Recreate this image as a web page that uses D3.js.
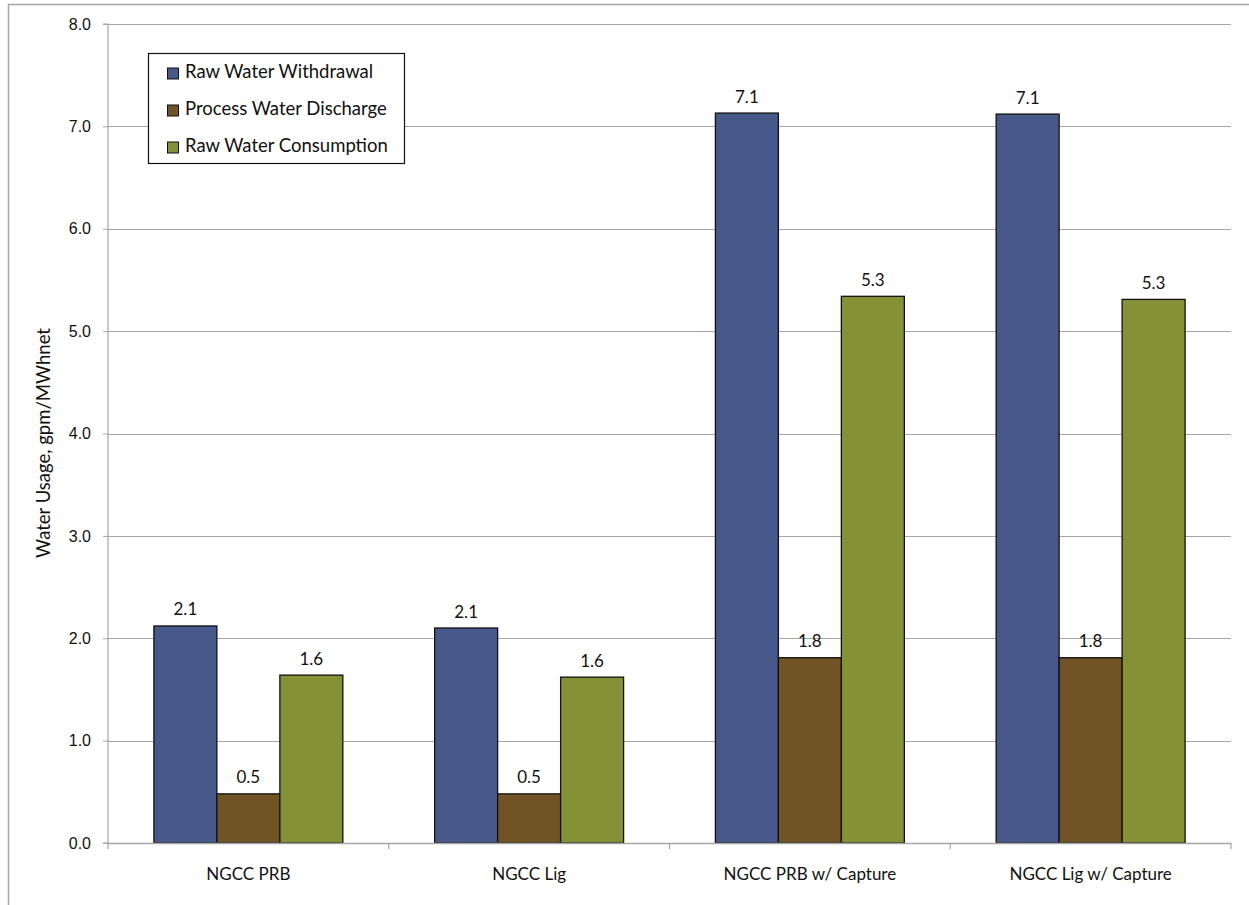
<!DOCTYPE html>
<html>
<head>
<meta charset="utf-8">
<script src="https://cdn.jsdelivr.net/npm/d3@7"></script>
<style>
  html, body { margin: 0; padding: 0; background: #fff; }
  svg { display: block; font-family: Lato, "Open Sans", "Liberation Sans", sans-serif; }
</style>
</head>
<body>
<svg id="chart" width="1249" height="905"></svg>
<script>
// Plant configurations along the x axis
const categories = ["NGCC PRB", "NGCC Lig", "NGCC PRB w/ Capture", "NGCC Lig w/ Capture"];
// Water streams, one bar per stream in each group
const seriesNames = ["Raw Water Withdrawal", "Process Water Discharge", "Raw Water Consumption"];
const seriesColors = ["#47598A", "#705425", "#849137"];
// Values in gpm/MWhnet, one array per stream
const rawWithdrawal = [2.12, 2.10, 7.13, 7.12];
const processDischarge = [0.48, 0.48, 1.81, 1.81];
const rawConsumption = [1.64, 1.62, 5.34, 5.31];
const yTicks = [0, 1, 2, 3, 4, 5, 6, 7, 8];

const seriesValues = [rawWithdrawal, processDischarge, rawConsumption];

const svg = d3.select("#chart");
const W = 1249, H = 905;
const margin = { left: 108, top: 24 };
const plotW = 1231 - margin.left;
const plotH = 843 - margin.top;

// outer chart frame (top and left edges)
svg.append("path")
  .attr("d", `M8.5,${H} V4.5 H${W}`)
  .attr("fill", "none").attr("stroke", "#A6A6A6").attr("stroke-width", 1.5);

const g = svg.append("g").attr("transform", `translate(${margin.left},${margin.top})`);

const x0 = d3.scaleBand().domain(categories).range([0, plotW]).paddingInner(0.327).paddingOuter(0.1635);
const x1 = d3.scaleBand().domain(seriesNames).range([0, x0.bandwidth()]).padding(0);
const y = d3.scaleLinear().domain([0, 8]).range([plotH, 0]);

// horizontal gridlines
g.append("g").selectAll("line").data(yTicks.filter(t => t > 0)).join("line")
  .attr("x1", 0).attr("x2", plotW)
  .attr("y1", d => Math.round(y(d)) + 0.5).attr("y2", d => Math.round(y(d)) + 0.5)
  .attr("stroke", "#A6A6A6").attr("stroke-width", 1.2);

// y axis
const yAxis = g.append("g")
  .call(d3.axisLeft(y).tickValues(yTicks).tickFormat(d3.format(".1f")).tickSize(5).tickPadding(12));
yAxis.select(".domain").attr("stroke", "#A6A6A6").attr("stroke-width", 1.2).attr("d", `M-5,${plotH}H0V0H-5`);
yAxis.selectAll(".tick line").attr("stroke", "#A6A6A6");
yAxis.selectAll(".tick text").attr("font-size", 16).attr("fill", "#111").attr("font-family", "inherit");

// bars with value labels
const groups = g.append("g").selectAll("g").data(categories).join("g")
  .attr("transform", d => `translate(${x0(d)},0)`);

groups.each(function (cat, ci) {
  const grp = d3.select(this);
  seriesNames.forEach((s, si) => {
    const v = seriesValues[si][ci];
    grp.append("rect")
      .attr("x", x1(s)).attr("width", x1.bandwidth())
      .attr("y", y(v)).attr("height", plotH - y(v))
      .attr("fill", seriesColors[si]).attr("stroke", "#111").attr("stroke-width", 1.3);
    grp.append("text")
      .attr("x", x1(s) + x1.bandwidth() / 2).attr("y", y(v) - 10.5)
      .attr("text-anchor", "middle").attr("font-size", 17).attr("fill", "#111")
      .text(v.toFixed(1));
  });
});

// x axis
const xAxis = g.append("g").attr("transform", `translate(0,${plotH})`);
xAxis.append("line").attr("x1", 0).attr("x2", plotW).attr("y1", 0.5).attr("y2", 0.5)
  .attr("stroke", "#A6A6A6").attr("stroke-width", 1.5);
const boundaries = d3.range(categories.length + 1).map(i => i * plotW / categories.length);
xAxis.selectAll("line.tick").data(boundaries).join("line").attr("class", "tick")
  .attr("x1", d => d).attr("x2", d => d).attr("y1", 0).attr("y2", 6)
  .attr("stroke", "#A6A6A6").attr("stroke-width", 1.2);
xAxis.selectAll("text").data(categories).join("text")
  .attr("x", d => x0(d) + x0.bandwidth() / 2).attr("y", 37)
  .attr("text-anchor", "middle").attr("font-size", 17).attr("fill", "#111")
  .text(d => d);

// y axis title
svg.append("text")
  .attr("transform", "translate(50,443) rotate(-90)")
  .attr("text-anchor", "middle").attr("font-size", 18.5).attr("fill", "#111")
  .text("Water Usage, gpm/MWhnet");

// legend
const legend = svg.append("g").attr("transform", "translate(148.5,53.5)");
legend.append("rect").attr("width", 256).attr("height", 110)
  .attr("fill", "#fff").attr("stroke", "#111").attr("stroke-width", 1.2);
seriesNames.forEach((s, i) => {
  const row = legend.append("g").attr("transform", `translate(0,${24.5 + i * 37})`);
  row.append("rect").attr("x", 19).attr("y", -10).attr("width", 11).attr("height", 11)
    .attr("fill", seriesColors[i]).attr("stroke", "#111").attr("stroke-width", 1);
  row.append("text").attr("x", 36.5).attr("y", 0).attr("font-size", 18.5).attr("fill", "#111").text(s);
});
</script>
</body>
</html>
